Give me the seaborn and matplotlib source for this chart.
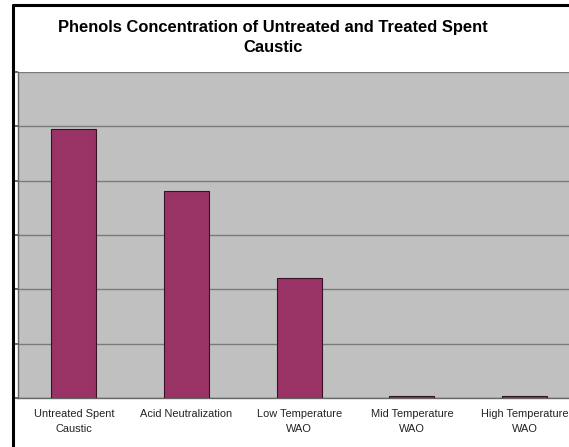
import numpy as np
import pandas as pd
import matplotlib
matplotlib.use("Agg")
import matplotlib.pyplot as plt
import seaborn as sns
from matplotlib.lines import Line2D

# data (y axis labels are cropped, units arbitrary)
stages = ['Untreated Spent\nCaustic', 'Acid Neutralization', 'Low Temperature\nWAO',
          'Mid Temperature\nWAO', 'High Temperature\nWAO']
phenols = [496, 381, 221, 3, 3]
y_ticks = [0, 100, 200, 300, 400, 500, 600]

df = pd.DataFrame({'Stage': stages, 'Phenols': phenols})

sns.set_theme(style="white")
plt.rcParams['font.family'] = ['Liberation Sans', 'DejaVu Sans']

fig = plt.figure(figsize=(5.69, 4.47), dpi=100)
ax = fig.add_axes([17.5/569, 1 - 398/447, (581 - 17.5)/569, (398 - 72)/447])
ax.set_facecolor('#c0c0c0')

sns.barplot(data=df, x='Stage', y='Phenols', color='#993366', width=0.4,
            edgecolor='#3a1026', linewidth=0.8, saturation=1, ax=ax, zorder=3)

ax.set_ylim(0, 600)
ax.set_yticks(y_ticks)
ax.set_yticklabels([])
ax.grid(axis='y', color='#7a7a7a', linewidth=1.0, zorder=1)
ax.set_axisbelow(True)
ax.set_xlim(-0.5, len(stages) - 0.5)
ax.set_xlabel('')
ax.set_ylabel('')

ax.set_xticks(range(len(stages)))
ax.set_xticklabels(stages, fontsize=7.9, color='#222222', linespacing=1.6)
ax.tick_params(axis='x', length=0, pad=8)
ax.set_xticks(np.arange(len(stages) + 1) - 0.5, minor=True)
ax.tick_params(axis='x', which='minor', length=3, color='#555555', direction='out')
ax.tick_params(axis='y', length=3, color='#555555', direction='out', left=True)

for side in ['top', 'right']:
    ax.spines[side].set_visible(False)
for side in ['left', 'bottom']:
    ax.spines[side].set_color('#666666')
    ax.spines[side].set_linewidth(1.0)

fig.text(273/569, 1 - 20/447, 'Phenols Concentration of Untreated and Treated Spent\nCaustic',
         ha='center', va='top', fontsize=11.9, fontweight='bold', color='black',
         linespacing=1.45)

# black frame on the left and top edge of the screenshot
fig.add_artist(Line2D([13/569, 13/569], [0, 1 - 5/447], color='black', linewidth=2.2,
                      transform=fig.transFigure))
fig.add_artist(Line2D([13/569, 1], [1 - 5/447, 1 - 5/447], color='black', linewidth=2.2,
                      transform=fig.transFigure))

fig.savefig('out.png', dpi=100)
